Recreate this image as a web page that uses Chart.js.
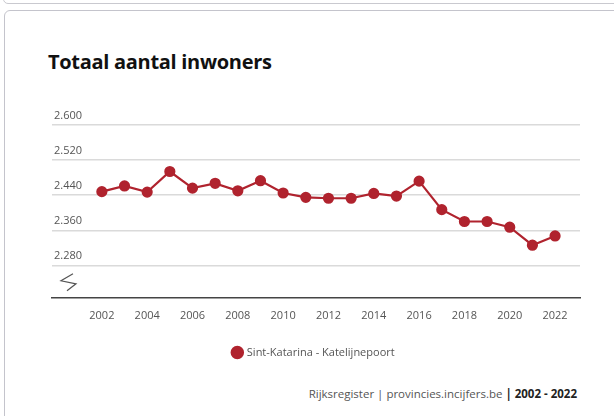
<!DOCTYPE html>
<html>
<head>
<meta charset="utf-8">
<script src="https://cdn.jsdelivr.net/npm/chart.js@4.4.0/dist/chart.umd.min.js"></script>
<style>
  html, body { margin: 0; padding: 0; background: #fff; }
  body { width: 614px; height: 416px; position: relative; overflow: hidden; font-family: "Open Sans", sans-serif; }
  .prevCard { position: absolute; left: 3px; top: -20px; width: 620px; height: 22px; border: 1px solid #c9c9cf; border-radius: 5px; }
  .card { position: absolute; left: 4px; top: 10px; width: 620px; height: 430px; border: 1px solid #c4c4cc; border-radius: 6px; }
  #title { position: absolute; left: 48px; top: 48px; font-size: 20px; font-weight: 700; color: #111; letter-spacing: -0.3px; }
  #source { position: absolute; right: 37px; top: 386px; font-size: 11.5px; color: #555; }
  #source b { color: #222; }
  #wrap { position: absolute; left: 0; top: 0; width: 614px; height: 416px; }
</style>
</head>
<body>
<div class="prevCard"></div>
<div class="card"></div>
<div id="title">Totaal aantal inwoners</div>
<div id="source">Rijksregister | provincies.incijfers.be <b>| 2002 - 2022</b></div>
<div id="wrap"><canvas id="chart"></canvas></div>
<script>
"use strict";

const years = [2002, 2003, 2004, 2005, 2006, 2007, 2008, 2009, 2010, 2011, 2012,
               2013, 2014, 2015, 2016, 2017, 2018, 2019, 2020, 2021, 2022];
const inwoners = [2448, 2461, 2447, 2494, 2456, 2467, 2450, 2473, 2445, 2435, 2433,
                  2433, 2444, 2438, 2472, 2407, 2380, 2380, 2367, 2326, 2347];
const xTicks = [2002, 2004, 2006, 2008, 2010, 2012, 2014, 2016, 2018, 2020, 2022];
const yTicks = [2280, 2360, 2440, 2520, 2600];
const seriesName = "Sint-Katarina - Katelijnepoort";

const lineColor = "#b0232e";

function fmt(v) {
    // dutch thousands separator
    return String(v).replace(/\B(?=(\d{3})+(?!\d))/g, ".");
}

// little axis-break mark at the bottom of the y axis
const breakMark = {
    id: "breakMark",
    afterDraw(chart) {
        const c = chart.ctx;
        const a = chart.chartArea;
        const x = a.left, y = a.bottom;
        c.save();
        c.strokeStyle = "#555";
        c.lineWidth = 1.2;
        c.beginPath();
        c.moveTo(x + 21, y - 24);
        c.lineTo(x + 9, y - 17);
        c.lineTo(x + 24, y - 14);
        c.lineTo(x + 15, y - 7);
        c.stroke();
        c.restore();
    }
};

const ctx = document.getElementById("chart");
new Chart(ctx, {
    type: "line",
    data: {
        datasets: [{
            label: seriesName,
            data: years.map((y, i) => ({ x: y, y: inwoners[i] })),
            borderColor: lineColor,
            backgroundColor: lineColor,
            borderWidth: 2.2,
            pointRadius: 4.5,
            pointBackgroundColor: lineColor,
            pointBorderColor: lineColor,
            tension: 0
        }]
    },
    options: {
        responsive: true,
        maintainAspectRatio: false,
        animation: false,
        layout: { padding: { left: 48, right: 34, top: 125, bottom: 48 } },
        scales: {
            x: {
                type: "linear",
                min: 1999.8,
                max: 2023.1,
                afterBuildTicks: (s) => { s.ticks = xTicks.map(v => ({ value: v })); },
                grid: { display: false, drawTicks: false },
                border: { display: true, color: "#444", width: 1.5 },
                ticks: {
                    padding: 11,
                    maxRotation: 0,
                    autoSkip: false,
                    color: "#555",
                    font: { family: "Open Sans", size: 11 },
                    callback: (v) => String(v)
                }
            },
            y: {
                min: 2206,
                max: 2600,
                afterBuildTicks: (s) => { s.ticks = yTicks.map(v => ({ value: v })); },
                grid: { color: "#dadada", lineWidth: 1.5, drawTicks: false },
                border: { display: false },
                ticks: {
                    mirror: true,
                    padding: 2,
                    labelOffset: -9,
                    color: "#555",
                    font: { family: "Open Sans", size: 11 },
                    callback: (v) => fmt(v)
                }
            }
        },
        plugins: {
            legend: {
                position: "bottom",
                labels: {
                    usePointStyle: true,
                    pointStyle: "circle",
                    boxWidth: 8,
                    boxHeight: 8,
                    padding: 14,
                    color: "#555",
                    font: { family: "Open Sans", size: 11 }
                }
            },
            tooltip: { enabled: false }
        }
    },
    plugins: [breakMark]
});
</script>
</body>
</html>
